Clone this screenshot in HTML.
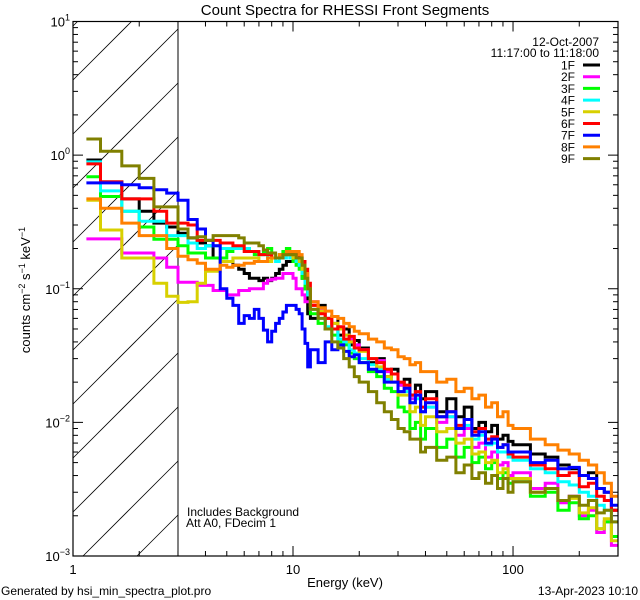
<!DOCTYPE html>
<html><head><meta charset="utf-8">
<style>
html,body{margin:0;padding:0;background:#fff;width:640px;height:600px;overflow:hidden;}
svg{display:block;font-family:"Liberation Sans",sans-serif;}
</style></head>
<body>
<svg id="chart" width="640" height="600" viewBox="0 0 640 600" xmlns="http://www.w3.org/2000/svg">
<defs><clipPath id="pc"><rect x="73" y="21.5" width="545" height="534.5"/></clipPath></defs>
<text x="345" y="15" font-size="15" text-anchor="middle">Count Spectra for RHESSI Front Segments</text>
<g id="hatch"></g>
<line x1="178" y1="21.5" x2="178" y2="556" stroke="#000" stroke-width="1"/>
<g id="series" clip-path="url(#pc)"></g>
<rect x="73" y="21.5" width="545" height="534.5" fill="none" stroke="#000" stroke-width="1.2"/>
<g id="axes"></g>
<text x="345" y="587" font-size="13" text-anchor="middle">Energy (keV)</text>
<text transform="translate(30,290) rotate(-90)" font-size="13" text-anchor="middle">counts cm<tspan dy="-5" font-size="9">−2</tspan><tspan dy="5"> s</tspan><tspan dy="-5" font-size="9">−1</tspan><tspan dy="5"> keV</tspan><tspan dy="-5" font-size="9">−1</tspan></text>
<text x="599" y="46" font-size="12" text-anchor="end">12-Oct-2007</text>
<text x="599" y="57" font-size="12" text-anchor="end">11:17:00 to 11:18:00</text>
<g id="legend"></g>
<text x="187" y="516" font-size="12">Includes Background</text>
<text x="186" y="527" font-size="12">Att A0, FDecim 1</text>
<text x="1" y="595" font-size="12">Generated by hsi_min_spectra_plot.pro</text>
<text x="638" y="595" font-size="12" text-anchor="end">13-Apr-2023 10:10</text>
</svg>
<script>
const edges=[1.15,1.333,1.667,2,2.333,2.667,3,3.333,3.667,4,4.333,4.667,5,5.333,5.667,6,6.333,6.667,7,7.333,7.667,8,8.333,8.667,9,9.333,9.667,10,10.333,10.667,11,11.333,11.667,12,
13,14,15,16,17,18,19,20,22,24,26,28,30,32,34,36,38,40,45,50,55,60,65,70,75,80,85,90,95,100,120,140,160,180,200,220,240,260,280,300];
const seriesNames=["1F","2F","3F","4F","5F","6F","7F","8F","9F"];
const seriesColors=["#000000","#ff00ff","#00ff00","#00ffff","#d8d000","#ff0000","#0000ff","#ff8000","#808000"];
const s1F=[0.92,0.63,0.47,0.38,0.31,0.29,0.26,0.24,0.22,0.21,0.17,0.16,0.16,0.15,0.14,0.13,0.12,0.12,0.115,0.12,0.115,0.12,0.13,0.14,0.15,0.16,0.16,0.17,0.16,0.15,0.12,0.1,0.065,
0.06,0.075,0.05,0.062,0.045,0.05,0.038,0.041,0.036,0.028,0.03,0.022,0.025,0.019,0.021,0.016,0.019,0.015,0.017,0.012,0.015,0.011,0.013,0.009,0.01,0.0085,0.0095,0.0075,0.008,0.0072,0.0068,0.0058,0.0055,0.0048,0.0045,0.004,0.0042,0.0032,0.003,0.0022];
const s2F=[0.236,0.236,0.185,0.185,0.17,0.145,0.112,0.112,0.106,0.106,0.097,0.097,0.09,0.09,0.097,0.097,0.1,0.1,0.1,0.11,0.116,0.118,0.12,0.12,0.13,0.13,0.13,0.12,0.1,0.1,0.09,0.08,0.08,
0.08,0.07,0.06,0.055,0.05,0.045,0.042,0.038,0.035,0.03,0.029,0.024,0.023,0.019,0.018,0.015,0.016,0.012,0.013,0.01,0.011,0.008,0.009,0.0065,0.007,0.0055,0.006,0.0048,0.005,0.004,0.0042,0.0032,0.0035,0.0025,0.0028,0.002,0.0022,0.0015,0.0018,0.0012];
const s3F=[0.69,0.49,0.38,0.29,0.235,0.235,0.21,0.185,0.185,0.17,0.17,0.17,0.19,0.2,0.2,0.2,0.19,0.18,0.18,0.19,0.2,0.17,0.17,0.18,0.19,0.2,0.18,0.16,0.15,0.14,0.12,0.1,0.09,
0.065,0.055,0.05,0.045,0.04,0.038,0.033,0.03,0.028,0.024,0.022,0.018,0.017,0.013,0.012,0.009,0.01,0.0075,0.009,0.0065,0.0075,0.0055,0.0065,0.005,0.0055,0.0045,0.005,0.0038,0.0042,0.0035,0.0036,0.0028,0.003,0.0022,0.0025,0.0019,0.002,0.0016,0.0018,0.0014];
const s4F=[0.89,0.54,0.38,0.32,0.32,0.25,0.25,0.22,0.2,0.21,0.21,0.2,0.2,0.2,0.2,0.2,0.19,0.19,0.18,0.18,0.17,0.17,0.16,0.17,0.17,0.18,0.17,0.17,0.16,0.15,0.13,0.11,0.09,
0.07,0.06,0.052,0.05,0.042,0.04,0.035,0.033,0.03,0.027,0.025,0.021,0.02,0.017,0.017,0.014,0.015,0.012,0.013,0.011,0.011,0.009,0.0095,0.0075,0.008,0.0068,0.007,0.006,0.006,0.0055,0.0052,0.0045,0.0042,0.0036,0.0034,0.003,0.0028,0.0024,0.0022,0.0018];
const s5F=[0.46,0.275,0.17,0.17,0.11,0.088,0.079,0.08,0.11,0.135,0.135,0.16,0.16,0.17,0.17,0.17,0.17,0.17,0.16,0.16,0.16,0.17,0.17,0.17,0.18,0.18,0.18,0.17,0.17,0.16,0.14,0.12,0.1,
0.075,0.068,0.06,0.055,0.05,0.045,0.04,0.036,0.034,0.03,0.026,0.022,0.02,0.016,0.016,0.012,0.013,0.0095,0.011,0.0085,0.009,0.007,0.0075,0.0058,0.006,0.005,0.0052,0.0042,0.0045,0.0038,0.0038,0.003,0.0032,0.0026,0.0027,0.0021,0.0023,0.0016,0.0019,0.0013];
const s6F=[0.86,0.63,0.47,0.47,0.38,0.31,0.31,0.3,0.23,0.23,0.23,0.22,0.22,0.21,0.21,0.19,0.19,0.19,0.18,0.18,0.18,0.17,0.17,0.17,0.18,0.18,0.18,0.18,0.18,0.17,0.16,0.14,0.11,
0.075,0.065,0.06,0.05,0.052,0.042,0.044,0.036,0.035,0.03,0.028,0.025,0.023,0.02,0.019,0.016,0.017,0.013,0.015,0.011,0.012,0.0095,0.0105,0.0085,0.009,0.0075,0.0078,0.0065,0.0068,0.0058,0.0055,0.0048,0.0045,0.004,0.0042,0.0033,0.0035,0.0028,0.0026,0.0022];
const s7F=[0.62,0.62,0.6,0.57,0.55,0.52,0.46,0.33,0.28,0.23,0.21,0.1,0.085,0.075,0.055,0.063,0.06,0.07,0.06,0.049,0.04,0.048,0.055,0.06,0.067,0.075,0.075,0.075,0.07,0.065,0.05,0.039,0.026,
0.035,0.028,0.04,0.035,0.038,0.034,0.031,0.032,0.028,0.025,0.024,0.02,0.02,0.017,0.018,0.014,0.016,0.012,0.014,0.011,0.012,0.009,0.0105,0.008,0.0085,0.007,0.0075,0.0065,0.0068,0.006,0.006,0.005,0.0052,0.0045,0.0046,0.004,0.0038,0.0032,0.003,0.0024];
const s8F=[0.47,0.4,0.31,0.25,0.25,0.2,0.175,0.165,0.155,0.14,0.14,0.15,0.145,0.15,0.15,0.155,0.155,0.16,0.16,0.16,0.17,0.17,0.17,0.18,0.18,0.19,0.19,0.19,0.19,0.18,0.15,0.13,0.1,
0.08,0.072,0.068,0.062,0.06,0.055,0.052,0.048,0.046,0.042,0.04,0.036,0.035,0.031,0.03,0.027,0.028,0.024,0.024,0.02,0.021,0.017,0.018,0.015,0.016,0.013,0.014,0.011,0.012,0.0095,0.009,0.0075,0.0068,0.0062,0.0058,0.0052,0.0048,0.0042,0.0035,0.0028];
const s9F=[1.32,1.07,0.83,0.67,0.41,0.41,0.28,0.24,0.245,0.23,0.25,0.25,0.25,0.25,0.24,0.22,0.22,0.22,0.21,0.195,0.185,0.185,0.17,0.17,0.18,0.18,0.18,0.18,0.17,0.17,0.15,0.12,0.1,
0.07,0.06,0.05,0.04,0.036,0.03,0.026,0.022,0.02,0.017,0.014,0.012,0.0105,0.009,0.0085,0.0075,0.0075,0.006,0.0065,0.0052,0.0055,0.0042,0.0048,0.0038,0.0042,0.0035,0.004,0.0032,0.0038,0.003,0.0036,0.003,0.0032,0.0026,0.0028,0.0024,0.0026,0.0021,0.0022,0.0018];
const seriesValues=[s1F,s2F,s3F,s4F,s5F,s6F,s7F,s8F,s9F];
const xMajor=[1,10,100];
const xMajorLabels=["1","10","100"];
const yExponents=[1,0,-1,-2,-3];

const NS="http://www.w3.org/2000/svg";
const L=73,R=618,T=21.5,B=556,XMIN=1,XMAX=300,YMIN=-3,YMAX=1,HX=178;
function X(e){return L+(R-L)*(Math.log10(e)-Math.log10(XMIN))/(Math.log10(XMAX)-Math.log10(XMIN));}
function Y(v){return T+(B-T)*(YMAX-Math.log10(v))/(YMAX-YMIN);}
function mk(tag,attrs,parent){const el=document.createElementNS(NS,tag);for(const k in attrs)el.setAttribute(k,attrs[k]);parent.appendChild(el);return el;}

// hatch lines computed within the box (x in [L,HX], y in [T,B]); line: y = c - (x-L)
const hatch=document.getElementById('hatch');
for(let c=-600;c<800;c+=54){
  const cc=c+86;
  let xa=L, ya=cc;
  if(ya>B){xa=L+(ya-B);ya=B;}
  let xb=HX, yb=cc-(HX-L);
  if(yb<T){xb=L+(cc-T);yb=T;}
  if(xa>=xb||ya<T||yb>B)continue;
  const el=mk('line',{x1:xa.toFixed(1),y1:ya.toFixed(1),x2:xb.toFixed(1),y2:yb.toFixed(1),stroke:'#000','stroke-width':0.8},hatch);
  
  
}
const sg=document.getElementById('series');
seriesValues.forEach((vals,i)=>{
  let d='';
  for(let j=0;j<vals.length;j++){
    const x0=X(edges[j]),x1=X(edges[j+1]),y=Math.min(B,Math.max(T,Y(vals[j])));
    d+=(j===0?'M':'L')+x0.toFixed(1)+','+y.toFixed(1)+'L'+x1.toFixed(1)+','+y.toFixed(1);
  }
  const p=mk('path',{d:d,fill:'none',stroke:seriesColors[i],'stroke-width':3,'stroke-linejoin':'miter'},sg);
  
  
});
const ax=document.getElementById('axes');
for(let dec=1;dec<=100;dec*=10){
  for(let m=1;m<10;m++){
    const e=dec*m; if(e>XMAX)break;
    const x=X(e),len=m===1?10:5;
    const t1=mk('line',{x1:x,y1:B,x2:x,y2:B-len,stroke:'#000'},ax);
    
    
    const t2=mk('line',{x1:x,y1:T,x2:x,y2:T+len,stroke:'#000'},ax);
    
    
  }
}
xMajor.forEach((e,i)=>{
  const t=mk('text',{x:X(e),y:574,'font-size':13,'text-anchor':'middle'},ax);
  t.textContent=xMajorLabels[i];
  
  
});
for(let p=YMIN;p<YMAX;p++){
  for(let m=1;m<10;m++){
    const v=m*Math.pow(10,p),y=Y(v),len=m===1?10:5;
    const a=mk('line',{x1:L,y1:y,x2:L+len,y2:y,stroke:'#000'},ax);
    
    
    const b=mk('line',{x1:R,y1:y,x2:R-len,y2:y,stroke:'#000'},ax);
    
    
  }
}
yExponents.forEach(p=>{
  const y=Y(Math.pow(10,p));
  const t=mk('text',{x:70,y:y+5,'font-size':13,'text-anchor':'end'},ax);
  
  
  const a=document.createElementNS(NS,'tspan');a.textContent='10';t.appendChild(a);
  const b=document.createElementNS(NS,'tspan');b.setAttribute('dy','-6');b.setAttribute('font-size','9');b.textContent=(p<0?'−':'')+Math.abs(p);t.appendChild(b);
});
const lg=document.getElementById('legend');
seriesNames.forEach((n,i)=>{
  const y=65+i*11.7;
  const t=mk('text',{x:575,y:y+4.5,'font-size':12,'text-anchor':'end'},lg);
  t.textContent=n;
  
  
  const l=mk('line',{x1:583,y1:y,x2:600,y2:y,stroke:seriesColors[i],'stroke-width':3},lg);
  
  
});
</script>
</body></html>
